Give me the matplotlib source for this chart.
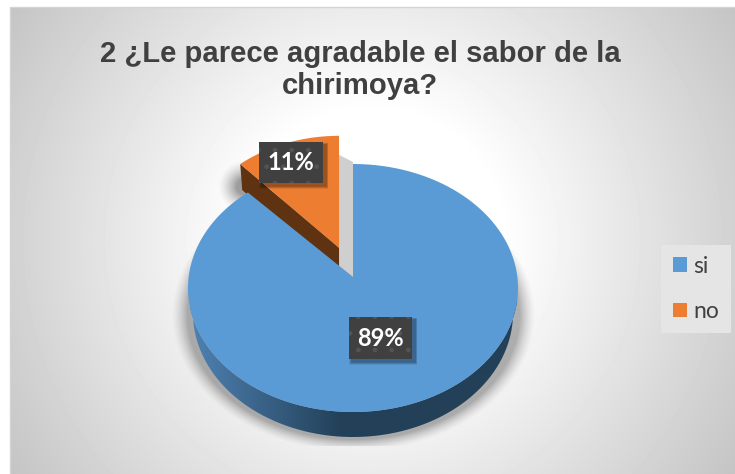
#!/usr/bin/env python3
"""
Pie chart (3D look) for the chirimoya survey question 2
"""

import matplotlib
matplotlib.use('Agg')
import matplotlib.pyplot as plt
from matplotlib.colors import LinearSegmentedColormap
from matplotlib.patches import Patch, Polygon, Rectangle
import numpy as np

# Survey data
labels = ['si', 'no']
values = [89, 11]
title = '2 ¿Le parece agradable el sabor de la\nchirimoya?'
colors = ['#5b9bd5', '#ed7d31']

# Pie geometry in pixels
cx, cy = 353, 288
rx, ry = 165, 124
apex_y = 277
depth = 26
explode = 0.25


def rim(theta, dx=0, dy=0, ax_=rx, ay_=ry):
    return np.column_stack([cx + dx + ax_ * np.sin(theta), cy + dy - ay_ * np.cos(theta)])


def soft_shadow(ax, x0, y0, a, b, width, strength, clip_y=None):
    xx, yy = np.meshgrid(np.arange(735), np.arange(474))
    r = np.sqrt(((xx - x0) / a) ** 2 + ((yy - y0) / b) ** 2)
    alpha = np.clip((1 + width - r) / width, 0, 1) ** 1.5 * strength
    if clip_y is not None:
        alpha[yy > clip_y] = 0
    rgba = np.zeros((474, 735, 4))
    rgba[..., 3] = alpha
    ax.imshow(rgba, extent=(0, 735, 474, 0), zorder=1, interpolation='bilinear', aspect='auto')


def draw_label(ax, x0, y0, x1, y1, text):
    for grow, alpha in [(5, 0.08), (3.5, 0.12), (2, 0.18)]:
        ax.add_patch(Rectangle((x0 + 3 - grow / 2, y0 + 3 - grow / 2), x1 - x0 + grow, y1 - y0 + grow,
                               fc='black', ec='none', alpha=alpha, zorder=8))
    ax.add_patch(Rectangle((x0, y0), x1 - x0, y1 - y0, fc='#404040', ec='#535353', lw=0, hatch='.', zorder=9))
    ax.text((x0 + x1) / 2, (y0 + y1) / 2, text, color='white', fontsize=17, fontweight='bold',
            family='Lato', ha='center', va='center', zorder=10)


def plot_pie():
    fig = plt.figure(figsize=(7.35, 4.74), dpi=100)
    ax = fig.add_axes([0, 0, 1, 1])

    # Chart background: radial gradient from white to grey corners
    xx, yy = np.meshgrid(np.arange(10, 735), np.arange(8, 474))
    r = np.sqrt((xx - 372) ** 2 + (yy - 240) ** 2) / 430
    shade = 1 - 0.23 * np.clip((r - 0.3) / 0.7, 0, 1)
    ax.imshow(shade, extent=(10, 735, 474, 8), cmap='gray', vmin=0, vmax=1, zorder=0, aspect='auto')
    ax.add_patch(Rectangle((10, 7), 730, 470, fc='none', ec='#d4d4d4', lw=1, zorder=0.5))

    # Angles follow the values clockwise from the top
    split = 2 * np.pi * values[0] / sum(values)
    theta_blue = np.linspace(0, split, 300)
    theta_orange = np.linspace(split, 2 * np.pi, 60)
    mid = theta_orange.mean()
    ox, oy = explode * rx * np.sin(mid), -explode * ry * np.cos(mid)
    outer = rim(theta_orange, ox, oy, ax_=155, ay_=123)

    # Shadows under the pie and the slice
    soft_shadow(ax, cx, cy + 26, rx + 1, ry + 1, 0.1, 0.3, clip_y=445)
    soft_shadow(ax, outer[0][0] + 4, outer[0][1] + depth - 4, 8, 8, 2.4, 0.38)

    # Grey wall left by the exploded slice
    wall = [(cx + ox, cy + oy - ry + 20), (cx, cy - ry - 2), (cx, apex_y), (cx + ox, apex_y + oy + depth - 8)]
    ax.add_patch(Polygon(wall, fc='#cfcfcf', ec='none', zorder=2))

    # Blue side, dark with a lighter left end
    side = np.vstack([rim(np.linspace(np.pi / 2, 3 * np.pi / 2, 200)),
                      rim(np.linspace(3 * np.pi / 2, np.pi / 2, 200), dy=25, ax_=160, ay_=124)])
    side_patch = Polygon(side, fc='none', ec='none')
    ax.add_patch(side_patch)
    grad = np.clip((np.arange(190, 520) - 190) / 150, 0, 1)[None, :]
    im = ax.imshow(grad, extent=(190, 520, 445, 300), zorder=3, aspect='auto',
                   cmap=LinearSegmentedColormap.from_list('side', ['#4f82b2', '#234059']))
    im.set_clip_path(side_patch)

    # Orange slice
    apex = (cx + ox, apex_y + oy)
    brown = [tuple(outer[0]), apex, (apex[0], apex[1] + depth), (outer[0][0] + 2, outer[0][1] + depth)]
    ax.add_patch(Polygon(brown, fc='#5f3312', ec='none', zorder=4))
    ax.add_patch(Polygon(np.vstack([outer, apex]), fc=colors[1], ec='none', zorder=5))

    # Blue top face
    top = np.vstack([rim(theta_blue), (cx, apex_y)])
    ax.add_patch(Polygon(top, fc=colors[0], ec='none', zorder=6))

    # Data labels
    draw_label(ax, 349, 317, 412, 359, f'{values[0]}%')
    draw_label(ax, 259, 142, 323, 183, f'{values[1]}%')

    # Title
    ax.text(360, 70, title, color='#404040', fontsize=21.1, fontweight='bold', family='Liberation Sans',
            ha='center', va='center', linespacing=1.2, zorder=10)

    # Legend
    handles = [Patch(fc=c, ec='none') for c in colors]
    ax.legend(handles, labels, loc='center', bbox_to_anchor=(696 / 735, 1 - 289 / 474), frameon=True,
              facecolor='#e5e5e5', edgecolor='none', fancybox=False, framealpha=1, handlelength=0.62,
              handleheight=0.62, handletextpad=0.27, labelspacing=1.05, borderpad=0.5,
              prop={'family': 'Lato', 'size': 16.5}, labelcolor='#404040').set_zorder(10)

    ax.set_xlim(0, 735)
    ax.set_ylim(474, 0)
    ax.axis('off')

    plt.savefig('out.png', dpi=100)


if __name__ == "__main__":
    plot_pie()
